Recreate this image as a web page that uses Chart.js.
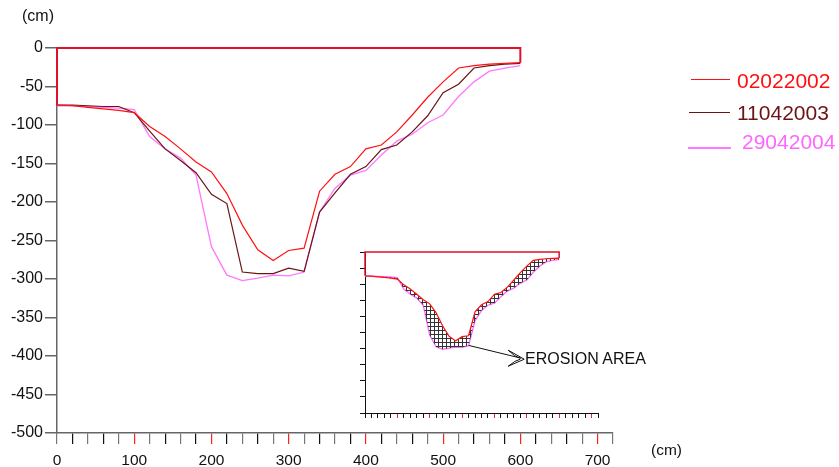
<!DOCTYPE html>
<html>
<head>
<meta charset="utf-8">
<script src="https://cdn.jsdelivr.net/npm/chart.js@4/dist/chart.umd.min.js"></script>
<style>
  html, body { margin: 0; padding: 0; background: #fff; }
  #wrap { position: relative; width: 839px; height: 467px; overflow: hidden; font-family: "Liberation Sans", Arial, sans-serif; }
  #main { position: absolute; left: 0; top: 0; }
  #inset { position: absolute; left: 330px; top: 230px; }
  .t { position: absolute; white-space: nowrap; line-height: 1; }
  .ln { position: absolute; }
</style>
</head>
<body>
<div id="wrap">
  <canvas id="main" width="839" height="467"></canvas>
  <canvas id="inset" width="290" height="200"></canvas>
  <div class="t" style="left:22px;top:8px;font-size:16px;color:#111;">(cm)</div>
  <div class="t" style="left:651px;top:442px;font-size:15.5px;color:#111;">(cm)</div>

  <div class="ln" style="left:691px;top:79px;width:39px;height:1px;background:#ff1010;"></div>
  <div class="t" style="left:737px;top:70px;font-size:21px;color:#ff1010;">02022002</div>
  <div class="ln" style="left:689px;top:112px;width:41px;height:1px;background:#6b1414;"></div>
  <div class="t" style="left:737px;top:102px;font-size:21px;color:#6b1414;">11042003</div>
  <div class="ln" style="left:688px;top:147px;width:43px;height:2px;background:#ff78ff;"></div>
  <div class="t" style="left:742px;top:131px;font-size:21px;color:#ff66ff;">29042004</div>

  <div class="t" style="left:525px;top:351px;font-size:16px;color:#111;">EROSION AREA</div>
</div>
<script>
// ---- data (cm) ----
const distances = [0,20,40,60,80,100,120,140,160,180,200,220,240,260,280,300,320,340,360,380,400,420,440,460,480,500,520,540,560,580,600];
const depth02022002 = [-74,-75,-77,-79,-81,-84,-102,-115,-131,-148,-161,-189,-230,-262,-276,-263,-260,-186,-164,-154,-131,-126,-109,-87,-64,-44,-26,-23,-21,-20,-19];
const depth11042003 = [-74,-74,-75,-76,-76,-84,-108,-131,-146,-162,-190,-202,-291,-293,-293,-286,-290,-213,-188,-164,-154,-132,-126,-109,-88,-58,-47,-26,-23,-21,-20];
const depth29042004 = [-75,-75,-76,-77,-78,-80,-115,-131,-143,-165,-258,-295,-302,-299,-295,-296,-291,-213,-182,-165,-159,-139,-121,-112,-97,-87,-63,-44,-30,-26,-23];
const frameDist  = [0, 0, 600, 600];
const frameDepth = [-74, 0, 0, -19];
const yTickValues = [0,-50,-100,-150,-200,-250,-300,-350,-400,-450,-500];
const xTickLabels = [0,100,200,300,400,500,600,700];

const RED = '#ff1010', MAROON = '#6b1414', PINK = '#ff78ff', FRAME = '#e0102a';

function pts(xs, ys) { return xs.map((x, i) => ({ x: x, y: ys[i] })); }

Chart.defaults.font.family = '"Liberation Sans", Arial, sans-serif';
Chart.defaults.animation = false;

function tickColor(ctx) {
  const v = ctx.tick ? ctx.tick.value : 0;
  if (v > 0 && v % 100 === 0) return '#ff2020';
  return (Math.round(v / 20) % 2) ? '#111' : '#777';
}

new Chart(document.getElementById('main'), {
  type: 'scatter',
  data: {
    datasets: [
      { label: 'frame', data: pts(frameDist, frameDepth), borderColor: FRAME, borderWidth: 2 },
      { label: '02022002', data: pts(distances, depth02022002), borderColor: RED, borderWidth: 1.2 },
      { label: '11042003', data: pts(distances, depth11042003), borderColor: MAROON, borderWidth: 1.2 },
      { label: '29042004', data: pts(distances, depth29042004), borderColor: PINK, borderWidth: 1.3 }
    ]
  },
  options: {
    responsive: false,
    showLine: true,
    clip: false,
    elements: { point: { radius: 0, hoverRadius: 0 }, line: { tension: 0, fill: false } },
    layout: { padding: { left: 0, top: 48, right: 226, bottom: 0 } },
    plugins: { legend: { display: false }, tooltip: { enabled: false } },
    events: [],
    scales: {
      x: {
        type: 'linear', min: 0, max: 720,
        afterFit: s => { s.height = 34; },
        border: { color: '#666', width: 1.5 },
        grid: { drawOnChartArea: false, drawTicks: true, tickLength: 11, color: tickColor, lineWidth: 1.2 },
        ticks: {
          stepSize: 20, autoSkip: false, maxRotation: 0, padding: 7,
          color: '#111', font: { size: 15.5 },
          callback: v => xTickLabels.includes(v) ? String(v) : ''
        }
      },
      y: {
        type: 'linear', min: -500, max: 0,
        afterFit: s => { s.width = 57; },
        border: { color: '#666', width: 1.5 },
        grid: { drawOnChartArea: false, drawTicks: true, tickLength: 12, color: '#666', lineWidth: 1.5 },
        ticks: {
          stepSize: 50, padding: 2, color: '#111', font: { size: 16 },
          callback: v => yTickValues.includes(v) ? String(v) : ''
        }
      }
    }
  }
});

// hatch pattern for erosion area
const pc = document.createElement('canvas');
pc.width = 4; pc.height = 4;
const pctx = pc.getContext('2d');
pctx.strokeStyle = '#333';
pctx.lineWidth = 1;
pctx.beginPath();
pctx.moveTo(0.5, 0); pctx.lineTo(0.5, 4);
pctx.moveTo(0, 0.5); pctx.lineTo(4, 0.5);
pctx.stroke();
const hatch = document.getElementById('inset').getContext('2d').createPattern(pc, 'repeat');

const arrowPlugin = {
  id: 'arrow',
  afterDatasetsDraw(chart) {
    const xs = chart.scales.x, ys = chart.scales.y, c = chart.ctx;
    const x0 = xs.getPixelForValue(320), y0 = ys.getPixelForValue(-290);
    const x1 = xs.getPixelForValue(492), y1 = ys.getPixelForValue(-333);
    c.save();
    c.strokeStyle = '#111'; c.lineWidth = 1;
    c.beginPath(); c.moveTo(x0, y0); c.lineTo(x1 - 3, y1 - 1); c.stroke();
    c.beginPath();
    c.moveTo(x1 - 16, y1 - 9); c.lineTo(x1, y1); c.lineTo(x1 - 16, y1 + 7);
    c.moveTo(x1 - 16, y1 - 9); c.quadraticCurveTo(x1 - 9, y1 - 2, x1 - 4, y1 - 1);
    c.moveTo(x1 - 16, y1 + 7); c.quadraticCurveTo(x1 - 9, y1 + 1, x1 - 4, y1);
    c.stroke();
    c.restore();
  }
};

function insetTick(ctx) {
  const v = ctx.tick ? ctx.tick.value : 0;
  if (v > 0 && v % 100 === 0) return '#ff2020';
  return '#111';
}

new Chart(document.getElementById('inset'), {
  type: 'scatter',
  data: {
    datasets: [
      { label: '02022002', data: pts(distances, depth02022002), borderColor: RED, borderWidth: 1.2, fill: { target: 1 }, backgroundColor: hatch },
      { label: '29042004', data: pts(distances, depth29042004), borderColor: PINK, borderWidth: 1.5 },
      { label: 'frame', data: pts(frameDist, frameDepth), borderColor: FRAME, borderWidth: 1.5 }
    ]
  },
  options: {
    responsive: false,
    showLine: true,
    clip: false,
    elements: { point: { radius: 0, hoverRadius: 0 }, line: { tension: 0 } },
    layout: { padding: { left: 30, top: 22, right: 22, bottom: 12 } },
    plugins: { legend: { display: false }, tooltip: { enabled: false } },
    events: [],
    scales: {
      x: {
        type: 'linear', min: 0, max: 720,
        afterFit: s => { s.height = 5; },
        border: { color: '#111', width: 1 },
        grid: { drawOnChartArea: false, drawTicks: true, tickLength: 5, color: insetTick, lineWidth: 1 },
        ticks: { stepSize: 20, autoSkip: false, display: false }
      },
      y: {
        type: 'linear', min: -500, max: 0,
        afterFit: s => { s.width = 5; },
        border: { color: '#111', width: 1 },
        grid: { drawOnChartArea: false, drawTicks: true, tickLength: 5, color: '#111', lineWidth: 1 },
        ticks: { stepSize: 50, display: false }
      }
    }
  },
  plugins: [arrowPlugin]
});
</script>
</body>
</html>
